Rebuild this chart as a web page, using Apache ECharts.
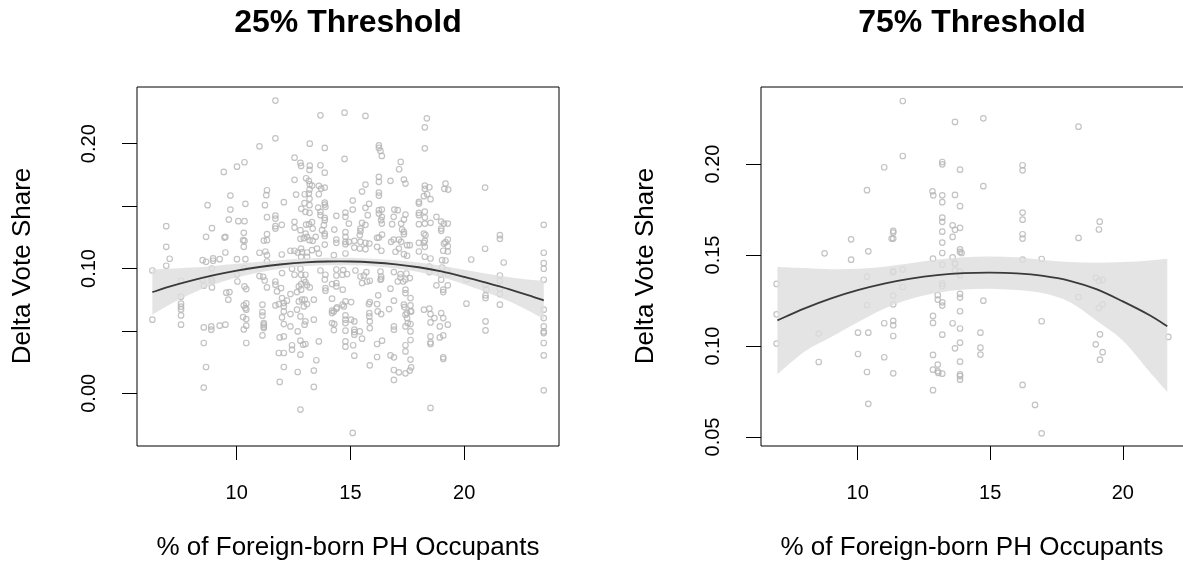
<!DOCTYPE html>
<html>
<head>
<meta charset="utf-8">
<script src="https://cdn.jsdelivr.net/npm/echarts@6/dist/echarts.min.js"></script>
<style>
html,body{margin:0;padding:0;background:#fff;}
#chart{width:1183px;height:580px;}
</style>
</head>
<body>
<div id="chart"></div>
<script>
// ---------- Panel 1: 25% Threshold ----------
const x25 = [
11.70,11.70,11.00,10.34,10.01,9.43,11.33,11.30,9.72,8.72,10.38,11.24,9.72,11.33,11.70,11.70,9.65,10.07,10.34,6.90,
8.91,11.70,11.70,10.31,11.33,8.65,9.46,9.50,10.28,10.34,11.19,11.33,10.31,6.90,9.50,11.00,11.26,11.33,7.05,8.50,
8.65,8.96,8.96,9.25,10.01,10.38,11.33,6.90,
6.29,8.90,10.31,10.01,7.55,8.50,8.55,8.90,8.90,8.91,8.91,10.03,11.00,11.16,11.23,10.34,10.42,11.33,11.70,11.70,
9.54,9.68,9.63,7.55,7.55,7.55,7.55,7.55,7.55,6.29,11.70,11.13,10.31,10.42,10.38,10.42,11.13,11.13,10.28,10.42,
11.19,11.19,11.19,11.19,8.55,8.88,8.88,9.25,9.50,10.42,10.31,11.13,8.55,10.42,8.65,8.55,
13.68,14.74,15.66,13.21,13.87,16.25,16.25,16.32,16.38,12.54,14.74,12.80,12.83,13.21,13.20,13.68,13.87,17.21,17.14,12.54,
13.05,13.17,13.21,13.31,13.61,13.71,13.87,16.25,16.25,15.66,15.51,16.76,17.35,17.42,13.20,13.17,12.99,12.61,13.61,16.25,
16.25,13.20,12.07,12.98,13.20,13.87,13.87,13.90,15.10,15.82,15.66,12.84,13.02,13.20,13.58,13.68,13.68,14.38,14.78,14.78,
15.10,15.76,16.25,16.38,16.25,16.38,16.35,16.38,16.93,17.08,16.90,16.83,17.42,17.35,17.23,11.98,12.54,12.54,12.80,13.05,
13.18,13.31,13.34,13.87,13.87,13.83,13.75,14.93,15.51,15.66,15.44,15.44,15.41,14.29,14.78,14.78,17.27,17.35,17.35,16.39,
16.25,16.17,13.03,13.09,12.95,12.80,13.20,13.34,13.47,13.87,13.87,13.87,14.38,14.38,14.78,14.78,14.93,15.17,15.17,15.44,
15.66,15.83,15.41,15.66,16.79,16.90,17.13,17.23,17.49,17.61,16.17,17.13,16.98,17.35,17.49,16.36,11.98,12.36,12.54,12.68,
12.83,12.87,13.09,13.31,13.53,13.61,12.83,13.09,14.78,14.27,
18.36,18.27,18.27,18.27,18.27,18.47,19.18,19.13,19.30,20.92,18.23,18.37,18.52,18.01,18.01,18.01,18.01,18.27,18.27,18.78,
18.01,18.27,18.52,18.99,19.11,19.28,18.99,18.99,23.50,18.23,18.30,18.27,18.23,18.27,18.01,18.01,19.28,19.18,19.11,19.28,
19.28,19.08,21.57,21.57,20.92,23.50,18.27,18.52,19.03,19.18,20.31,21.74,23.50,
12.43,12.80,13.68,14.38,14.68,15.22,15.70,16.32,16.91,17.20,17.46,11.99,12.54,12.83,13.02,13.90,14.38,14.65,14.85,15.44,
15.59,16.35,17.20,17.42,17.61,16.32,12.95,13.02,12.83,12.73,13.09,13.21,13.87,14.38,14.38,14.19,13.90,13.90,14.66,15.51,
15.73,15.85,16.35,16.76,17.08,17.32,17.42,17.42,11.95,12.83,12.65,11.77,12.36,11.99,12.07,12.07,11.85,12.21,12.87,12.99,
13.09,12.73,12.95,13.39,14.19,14.78,15.03,14.71,14.65,14.41,14.38,14.19,14.19,14.27,15.85,15.81,16.22,16.17,16.91,16.70,
17.35,17.37,17.64,17.64,17.67,16.20,16.35,15.83,15.83,12.65,12.80,12.36,12.07,11.99,12.07,12.36,12.98,13.02,13.39,14.19,
14.29,14.78,14.78,14.78,14.78,15.03,15.17,15.17,15.17,15.17,15.41,15.85,15.85,16.91,16.91,17.42,17.49,17.52,17.64,17.42,
17.64,14.27,12.68,11.89,12.07,17.64,17.49,12.80,12.92,13.02,12.43,12.43,13.61,14.78,14.78,15.51,15.12,16.17,16.39,17.42,
17.42,17.64,11.85,12.07,12.80,15.17,16.17,16.76,16.91,17.64,13.50,12.07,12.68,13.39,15.85,16.91,17.13,17.42,17.61,17.67,
11.89,16.91,13.39,12.80,15.10,
18.47,19.03,18.47,18.96,19.25,19.28,18.99,18.78,19.08,19.08,19.28,20.10,20.10,20.94,20.97,20.94,20.94,21.57,21.57,21.57,
21.57,21.57,23.50,23.50,23.50,23.50,23.50,23.50,23.50,23.50,23.50,23.50,18.23,18.47,18.52,18.69,18.52,18.99,19.08,18.93,
19.28,18.52,18.52,18.52,18.93,19.08,19.08,19.08,20.94,20.94,18.52
];
const y25 = [
0.2345,0.2043,0.1979,0.1851,0.1816,0.1774,0.1627,0.1587,0.1584,0.1507,0.1518,0.1507,0.1472,0.1411,0.1424,0.1400,0.1392,0.1379,0.1379,0.1339,
0.1323,0.1339,0.1320,0.1286,0.1275,0.1254,0.1248,0.1254,0.1227,0.1222,0.1224,0.1227,0.1174,0.1174,0.1128,0.1126,0.1136,0.1107,0.1078,0.1067,
0.1054,0.1081,0.1062,0.1075,0.1075,0.1075,0.1056,0.1022,
0.0984,0.1000,0.1003,0.0952,0.0902,0.0910,0.0862,0.0923,0.0907,0.0896,0.0848,0.0896,0.0939,0.0934,0.0904,0.0856,0.0835,0.0848,0.0896,0.0870,
0.0806,0.0811,0.0750,0.0774,0.0718,0.0694,0.0672,0.0624,0.0550,0.0590,0.0704,0.0710,0.0704,0.0720,0.0683,0.0670,0.0651,0.0622,0.0611,0.0595,
0.0563,0.0550,0.0534,0.0523,0.0528,0.0536,0.0510,0.0542,0.0550,0.0542,0.0512,0.0464,0.0403,0.0403,0.0211,0.0046,
0.2227,0.2248,0.2222,0.2000,0.1966,0.1987,0.1966,0.1942,0.1902,0.1888,0.1878,0.1846,0.1822,0.1824,0.1790,0.1827,0.1768,0.1854,0.1795,0.1710,
0.1723,0.1702,0.1675,0.1664,0.1662,0.1640,0.1648,0.1734,0.1694,0.1672,0.1616,0.1702,0.1712,0.1680,0.1632,0.1600,0.1595,0.1592,0.1595,0.1608,
0.1584,0.1558,0.1531,0.1523,0.1507,0.1528,0.1512,0.1494,0.1544,0.1518,0.1486,0.1478,0.1454,0.1446,0.1488,0.1454,0.1427,0.1422,0.1448,0.1414,
0.1472,0.1427,0.1467,0.1472,0.1440,0.1414,0.1387,0.1360,0.1472,0.1467,0.1414,0.1355,0.1432,0.1392,0.1360,0.1350,0.1374,0.1328,0.1307,0.1352,
0.1355,0.1371,0.1320,0.1406,0.1387,0.1347,0.1307,0.1360,0.1366,0.1350,0.1320,0.1299,0.1267,0.1312,0.1291,0.1254,0.1312,0.1294,0.1275,0.1272,
0.1248,0.1246,0.1280,0.1254,0.1243,0.1238,0.1227,0.1222,0.1254,0.1280,0.1261,0.1192,0.1232,0.1206,0.1214,0.1195,0.1214,0.1222,0.1168,0.1214,
0.1206,0.1200,0.1160,0.1155,0.1214,0.1232,0.1232,0.1214,0.1187,0.1187,0.1174,0.1160,0.1134,0.1115,0.1102,0.1142,0.1112,0.1142,0.1142,0.1128,
0.1160,0.1131,0.1128,0.1147,0.1160,0.1120,0.1094,0.1094,0.1120,0.1107,
0.2203,0.2131,0.1963,0.1664,0.1638,0.1651,0.1680,0.1638,0.1632,0.1648,0.1579,0.1595,0.1555,0.1534,0.1520,0.1446,0.1427,0.1456,0.1408,0.1414,
0.1355,0.1360,0.1366,0.1376,0.1360,0.1360,0.1320,0.1302,0.1350,0.1280,0.1267,0.1222,0.1206,0.1174,0.1206,0.1136,0.1232,0.1211,0.1200,0.1179,
0.1136,0.1142,0.1267,0.1238,0.1158,0.1126,0.1094,0.1080,0.1067,0.1064,0.1072,0.1048,0.1043,
0.0998,0.0998,0.0984,0.0992,0.0987,0.0984,0.0971,0.0976,0.0971,0.0955,0.0960,0.0963,0.0950,0.0950,0.0950,0.0950,0.0944,0.0950,0.0955,0.0936,
0.0944,0.0936,0.0928,0.0912,0.0923,0.0910,0.0910,0.0891,0.0875,0.0856,0.0865,0.0848,0.0912,0.0883,0.0856,0.0875,0.0843,0.0822,0.0830,0.0883,
0.0896,0.0902,0.0918,0.0838,0.0896,0.0896,0.0830,0.0803,0.0843,0.0830,0.0811,0.0816,0.0795,0.0763,0.0723,0.0696,0.0715,0.0742,0.0750,0.0750,
0.0715,0.0736,0.0696,0.0750,0.0758,0.0736,0.0731,0.0696,0.0710,0.0688,0.0678,0.0662,0.0643,0.0656,0.0731,0.0715,0.0785,0.0715,0.0742,0.0675,
0.0710,0.0691,0.0763,0.0704,0.0656,0.0656,0.0635,0.0643,0.0616,0.0670,0.0616,0.0635,0.0656,0.0608,0.0555,0.0536,0.0550,0.0576,0.0590,0.0563,
0.0555,0.0624,0.0590,0.0563,0.0502,0.0590,0.0576,0.0510,0.0491,0.0470,0.0496,0.0576,0.0523,0.0536,0.0510,0.0630,0.0603,0.0563,0.0555,0.0536,
0.0496,0.0507,0.0496,0.0448,0.0456,0.0656,0.0643,0.0422,0.0390,0.0395,0.0385,0.0350,0.0416,0.0416,0.0374,0.0438,0.0385,0.0395,0.0422,0.0385,
0.0336,0.0427,0.0323,0.0323,0.0310,0.0302,0.0291,0.0304,0.0288,0.0270,0.0265,0.0211,0.0171,0.0182,0.0224,0.0187,0.0168,0.0160,0.0182,0.0208,
0.0091,0.0107,0.0051,-0.0130,-0.0317,
0.1016,0.1008,0.0971,0.0955,0.0984,0.0955,0.0910,0.0865,0.0830,0.0811,0.0865,0.0910,0.0718,0.0870,0.0830,0.0785,0.0763,0.0944,0.0902,0.0838,
0.0795,0.0710,0.0998,0.0910,0.0670,0.0603,0.0536,0.0496,0.0483,0.0403,0.0304,0.0024,0.0670,0.0678,0.0635,0.0603,0.0568,0.0643,0.0603,0.0536,
0.0550,0.0456,0.0408,0.0395,0.0448,0.0464,0.0288,0.0275,0.0576,0.0504,-0.0117
];
const fitX25  = [6.29, 7, 8, 9, 10, 11, 12, 13, 14, 15, 16, 17, 18, 19, 20, 21, 22, 23, 23.5];
const fitY25  = [0.0810,0.0852,0.0902,0.0946,0.0983,0.1012,0.1034,0.1049,0.1056,0.1056,0.1048,0.1033,0.1010,0.0977,0.0933,0.0884,0.0832,0.0775,0.0745];
const bandHi25 = [0.0992,0.0997,0.1007,0.1021,0.1038,0.1054,0.1069,0.1080,0.1086,0.1086,0.1078,0.1066,0.1048,0.1022,0.0990,0.0957,0.0929,0.0907,0.0900];
const bandLo25 = [0.0630,0.0706,0.0797,0.0871,0.0928,0.0970,0.0999,0.1018,0.1026,0.1026,0.1018,0.1000,0.0972,0.0930,0.0874,0.0808,0.0735,0.0645,0.0592];

// ---------- Panel 2: 75% Threshold ----------
const x75 = [
11.70,13.67,14.74,18.33,11.70,11.00,13.19,13.19,13.86,16.22,16.22,14.74,10.35,12.82,12.85,13.19,13.67,13.19,13.86,16.22,
16.22,19.13,19.10,13.19,13.19,13.58,13.67,13.86,11.34,11.34,11.34,11.28,13.19,13.58,13.19,16.22,16.22,18.33,9.75,8.75,
10.40,9.75,13.19,13.86,13.86,13.92,12.84,13.19,13.58,13.67,13.67,16.22,16.94,11.34,11.34,11.70,13.67,13.86,13.86,10.35,
18.98,19.10,19.24,6.94,11.70,13.19,13.19,11.34,13.02,13.02,13.19,13.19,13.86,13.86,14.74,18.33,11.34,10.35,19.10,19.24,
6.94,13.86,11.00,11.34,11.34,12.84,12.84,13.58,13.86,16.94,8.53,10.01,10.40,11.34,13.19,14.63,19.14,21.72,6.94,13.86,
13.67,14.63,14.63,18.98,19.24,19.14,10.01,11.00,12.84,8.53,13.86,10.35,11.34,12.84,13.02,13.04,13.19,13.02,13.86,13.86,
13.86,16.22,12.84,10.40,16.69,16.94
];
const y75 = [
0.2346,0.2231,0.2251,0.2205,0.2044,0.1982,0.2011,0.1998,0.1969,0.1993,0.1965,0.1878,0.1856,0.1850,0.1828,0.1828,0.1830,0.1790,0.1768,0.1733,
0.1694,0.1683,0.1640,0.1705,0.1682,0.1663,0.1638,0.1649,0.1632,0.1623,0.1590,0.1590,0.1628,0.1599,0.1568,0.1614,0.1590,0.1594,0.1586,0.1509,
0.1520,0.1474,0.1511,0.1531,0.1517,0.1511,0.1480,0.1447,0.1487,0.1456,0.1449,0.1475,0.1478,0.1411,0.1405,0.1420,0.1416,0.1409,0.1389,0.1381,
0.1376,0.1357,0.1363,0.1341,0.1324,0.1343,0.1330,0.1277,0.1279,0.1255,0.1240,0.1222,0.1286,0.1266,0.1249,0.1268,0.1229,0.1224,0.1209,0.1229,
0.1174,0.1191,0.1125,0.1138,0.1114,0.1165,0.1127,0.1125,0.1096,0.1136,0.1068,0.1073,0.1073,0.1055,0.1062,0.1073,0.1064,0.1050,0.1013,0.1018,
0.0987,0.0991,0.0953,0.1009,0.0966,0.0925,0.0956,0.0938,0.0951,0.0912,0.0914,0.0857,0.0850,0.0870,0.0861,0.0852,0.0848,0.0898,0.0844,0.0834,
0.0815,0.0786,0.0757,0.0682,0.0676,0.0520
];
const fitX75  = [6.97, 8, 9, 10, 11, 12, 13, 14, 15, 16, 17, 18, 19, 20, 21, 21.68];
const fitY75  = [0.1141,0.1207,0.1262,0.1307,0.1343,0.1370,0.1389,0.1400,0.1403,0.1399,0.1385,0.1358,0.1312,0.1245,0.1170,0.1108];
const bandHi75 = [0.1434,0.1428,0.1422,0.1424,0.1436,0.1455,0.1475,0.1488,0.1492,0.1487,0.1473,0.1461,0.1457,0.1461,0.1470,0.1480];
const bandLo75 = [0.0845,0.0970,0.1050,0.1130,0.1205,0.1258,0.1292,0.1310,0.1315,0.1308,0.1290,0.1242,0.1140,0.1030,0.0860,0.0747];

const titles = ['25% Threshold', '75% Threshold'];
const xTitle = '% of Foreign-born PH Occupants';
const yTitle = 'Delta Vote Share';
const xTicks = [10, 15, 20];
const yTicks25 = [0, 0.05, 0.10, 0.15, 0.20];
const yLabels25 = [0, 0.10, 0.20];
const yTicks75 = [0.05, 0.10, 0.15, 0.20];

// ---------- build ----------
const FONT = '"Liberation Sans", Arial, Helvetica, sans-serif';
const zip = (a, b) => a.map((v, i) => [v, b[i]]);

// Catmull-Rom -> cubic bezier path through pixel points
function curvePath(pts, moveFirst) {
  let d = (moveFirst ? 'M' : 'L') + pts[0][0] + ' ' + pts[0][1];
  for (let i = 0; i < pts.length - 1; i++) {
    const p0 = pts[i - 1] || pts[i], p1 = pts[i], p2 = pts[i + 1], p3 = pts[i + 2] || p2;
    const c1 = [p1[0] + (p2[0] - p0[0]) / 6, p1[1] + (p2[1] - p0[1]) / 6];
    const c2 = [p2[0] - (p3[0] - p1[0]) / 6, p2[1] - (p3[1] - p1[1]) / 6];
    d += ' C' + c1[0] + ' ' + c1[1] + ' ' + c2[0] + ' ' + c2[1] + ' ' + p2[0] + ' ' + p2[1];
  }
  return d;
}

function xAxisFor(gi, min, max) {
  return {
    gridIndex: gi, type: 'value', min: min, max: max,
    axisLine: { show: false, onZero: false },
    splitLine: { show: false },
    axisTick: { show: true, customValues: xTicks, length: 14, lineStyle: { color: '#000', width: 1 } },
    axisLabel: { customValues: xTicks, fontSize: 20, fontFamily: FONT, color: '#000', margin: 37 }
  };
}
function yAxisFor(gi, min, max, ticks, labels) {
  return {
    gridIndex: gi, type: 'value', min: min, max: max,
    axisLine: { show: false, onZero: false },
    splitLine: { show: false },
    axisTick: { show: true, customValues: ticks, length: 15, lineStyle: { color: '#000', width: 1 } },
    axisLabel: { customValues: labels, rotate: 90, fontSize: 20, fontFamily: FONT, color: '#000', margin: 38,
                 formatter: v => v.toFixed(2) }
  };
}
function panelSeries(gi, xs, ys, fx, fy, lo, hi) {
  return [
    { type: 'scatter', xAxisIndex: gi, yAxisIndex: gi, data: zip(xs, ys), symbol: 'circle', symbolSize: 5.5,
      itemStyle: { color: 'rgba(0,0,0,0)', borderColor: '#b4b4b4', borderWidth: 1.2 }, silent: true, z: 2 },
    { type: 'custom', xAxisIndex: gi, yAxisIndex: gi, data: [[fx[0], fy[0]]], silent: true, z: 3,
      renderItem: function (params, api) {
        const up = fx.map((x, i) => api.coord([x, hi[i]]));
        const dn = fx.map((x, i) => api.coord([x, lo[i]])).reverse();
        const bandD = curvePath(up, true) + ' ' + curvePath(dn, false) + ' Z';
        const lineD = curvePath(fx.map((x, i) => api.coord([x, fy[i]])), true);
        return { type: 'group', children: [
          { type: 'path', shape: { pathData: bandD }, style: { fill: 'rgba(222,222,222,0.82)', stroke: null } },
          { type: 'path', shape: { pathData: lineD }, style: { fill: null, stroke: '#3a3a3a', lineWidth: 1.8 } }
        ] };
      } }
  ];
}

const grids = [
  { left: 137, top: 87, width: 422, height: 359 },
  { left: 761, top: 87, width: 423, height: 359 }
];

const chart = echarts.init(document.getElementById('chart'), null, { renderer: 'canvas' });
chart.setOption({
  animation: false,
  backgroundColor: '#fff',
  grid: grids.map(g => Object.assign({ show: true, borderColor: '#000', borderWidth: 1, backgroundColor: 'transparent',
                                      containLabel: false, outerBoundsMode: 'none' }, g)),
  xAxis: [xAxisFor(0, 5.614, 24.17), xAxisFor(1, 6.351, 22.31)],
  yAxis: [yAxisFor(0, -0.0422, 0.2454, yTicks25, yLabels25), yAxisFor(1, 0.04505, 0.2423, yTicks75, yTicks75)],
  series: [].concat(
    panelSeries(0, x25, y25, fitX25, fitY25, bandLo25, bandHi25),
    panelSeries(1, x75, y75, fitX75, fitY75, bandLo75, bandHi75)
  ),
  graphic: [
    { type: 'text', x: 348, y: 23, style: { text: titles[0], font: 'bold 32px ' + FONT, fill: '#000', align: 'center', verticalAlign: 'middle' } },
    { type: 'text', x: 972, y: 23, style: { text: titles[1], font: 'bold 32px ' + FONT, fill: '#000', align: 'center', verticalAlign: 'middle' } },
    { type: 'text', x: 348, y: 548, style: { text: xTitle, font: '26px ' + FONT, fill: '#000', align: 'center', verticalAlign: 'middle' } },
    { type: 'text', x: 972, y: 548, style: { text: xTitle, font: '26px ' + FONT, fill: '#000', align: 'center', verticalAlign: 'middle' } },
    { type: 'text', x: 23, y: 266, rotation: Math.PI / 2, style: { text: yTitle, font: '26px ' + FONT, fill: '#000', align: 'center', verticalAlign: 'middle' } },
    { type: 'text', x: 646, y: 266, rotation: Math.PI / 2, style: { text: yTitle, font: '26px ' + FONT, fill: '#000', align: 'center', verticalAlign: 'middle' } }
  ]
});
</script>
</body>
</html>
